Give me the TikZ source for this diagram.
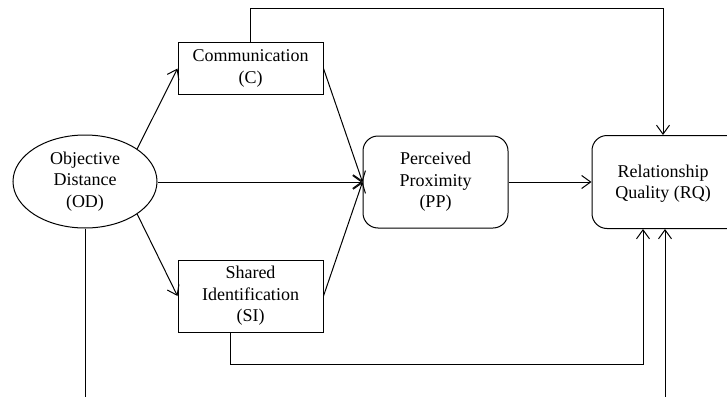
\documentclass[tikz,border=0pt]{standalone}
\usepackage{fontspec}
\setmainfont{Liberation Serif}
\usetikzlibrary{arrows.meta,shapes.geometric}
\begin{document}
\begin{tikzpicture}[x=1pt,y=-1pt,
  every node/.style={font=\fontsize{18}{21.5}\selectfont, align=center, inner sep=0pt, line width=1pt},
  boxnode/.style={draw, rectangle, minimum width=145pt},
  roundnode/.style={draw, rectangle, rounded corners=15pt, minimum width=145pt, minimum height=92pt},
  ovalnode/.style={draw, ellipse, minimum width=144pt, minimum height=93pt},
  link/.style={line width=1pt, -{Straight Barb[length=9pt,width=13pt,line width=1pt]}},
  plain/.style={line width=1pt}]
  \useasboundingbox (0,0) rectangle (727,396);
  \clip (0,0) rectangle (727,396);

  % constructs
  \node[ovalnode] (OD) at (85,181.5) {Objective\\Distance\\(OD)};
  \node[boxnode, minimum height=51pt] (C) at (250.5,68.5) {Communication\\(C)};
  \node[boxnode, minimum height=72pt] (SI) at (250.5,296) {Shared\\Identification\\(SI)};
  \node[roundnode] (PP) at (435.5,182) {Perceived\\Proximity\\(PP)};
  % the right side of this box runs past the frame
  \node[roundnode, minimum width=150pt, minimum height=93pt] (RQ) at (667,182) {};
  \node (RQtext) at (663,183.5) {Relationship\\Quality (RQ)};

  % routing helpers
  \coordinate (topY) at (0,9);
  \coordinate (lowY) at (0,364);
  \coordinate (bot) at (0,400);
  \coordinate (siOut) at ([xshift=-20pt]SI.south);
  \coordinate (rqTop) at ([xshift=-4pt]RQ.north);
  \coordinate (rqIn) at ([xshift=-24pt]RQ.south);
  \coordinate (rqUp) at ([xshift=-2pt]RQ.south);

  % paths from objective distance
  \draw[link] (OD.32) -- (C.west);
  \draw[link] (OD.-32) -- (SI.west);
  \draw[link] (OD.east |- PP.west) -- (PP.west);
  \draw[plain] (OD.south) -- (OD.south |- bot);

  % mediators to perceived proximity
  \draw[link] (C.east) -- (PP.west);
  \draw[link] (SI.east) -- (PP.west);
  \draw[link] (PP.east) -- (RQ.west);

  % direct paths to relationship quality
  \draw[link] (C.north) -- (C.north |- topY) -| (rqTop);
  \draw[link] (siOut) |- (rqIn |- lowY) -- (rqIn);
  \draw[link] (rqUp |- bot) -- (rqUp);
\end{tikzpicture}
\end{document}
